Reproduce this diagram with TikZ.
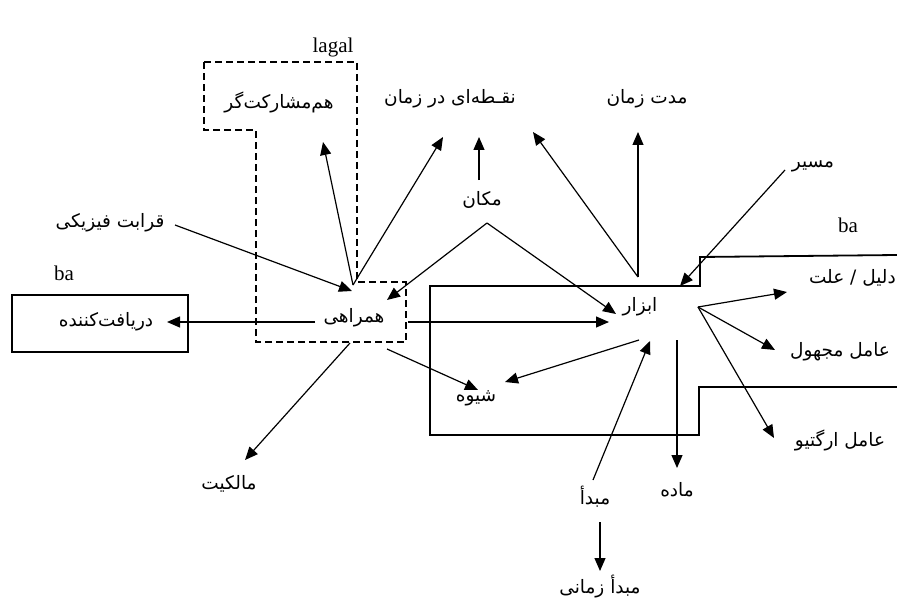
\documentclass[tikz,border=0pt]{standalone}
\usepackage{fontspec}
\setmainfont{Liberation Serif}
\newfontfamily\arabicfont[Script=Arabic]{DejaVu Sans}
\TeXXeTstate=1
\usetikzlibrary{arrows.meta}
\newcommand\rtltext[1]{\arabicfont\beginR #1\endR}

\begin{document}
\begin{tikzpicture}[x=1pt,y=-1pt,
  fa/.style={font=\fontsize{18.5}{22}\selectfont, inner sep=0pt},
  la/.style={font=\fontsize{21}{23}\selectfont, inner sep=0pt},
  conn/.style={line width=1.2pt, -{Triangle[length=13pt,width=11pt]}},
  frame/.style={line width=1.8pt, line join=miter},
  dashframe/.style={line width=1.4pt, dash pattern=on 7pt off 4pt},
  boxnode/.style={draw, line width=1.8pt, inner sep=0pt}
]
\useasboundingbox (0,0) rectangle (897,607);

% frames
\draw[frame] (897,255) -- (700,257) -- (700,286) -- (430,286) -- (430,435)
  -- (699,435) -- (699,387) -- (897,387);
\draw[dashframe] (204,62) -- (357,62) -- (357,282) -- (406,282) -- (406,342)
  -- (256,342) -- (256,130) -- (204,130) -- cycle;
\node[boxnode, minimum width=176pt, minimum height=57pt] (recvbox) at (100,323.5) {};

% labels
\node[la] (lagal) at (333,47) {lagal};
\node[la] (baleft) at (64,273) {ba};
\node[la] (baright) at (848,225) {ba};
\node[fa] (hamsharik) at (279,102) {\rtltext{هم‌مشارکت‌گر}};
\node[fa] (noghte) at (450,99) {\rtltext{نقـطه‌ای در زمان}};
\node[fa] (moddat) at (647,99) {\rtltext{مدت زمان}};
\node[fa] (makan) at (482,200) {\rtltext{مکان}};
\node[fa] (masir) at (813,166) {\rtltext{مسیر}};
\node[fa] (gharabat) at (110,223) {\rtltext{قرابت فیزیکی}};
\node[fa] (recv) at (106,322) {\rtltext{دریافت‌کننده}};
\node[fa] (hamrahi) at (354,318) {\rtltext{همراهی}};
\node[fa] (abzar) at (640,307) {\rtltext{ابزار}};
\node[fa, anchor=east] (dalil) at (896,278) {\rtltext{دلیل / علت}};
\node[fa] (majhul) at (840,352) {\rtltext{عامل مجهول}};
\node[fa] (ergative) at (840,440) {\rtltext{عامل ارگتیو}};
\node[fa] (shive) at (476,398) {\rtltext{شیوه}};
\node[fa] (malekiyat) at (229,484) {\rtltext{مالکیت}};
\node[fa] (made) at (677,490) {\rtltext{ماده}};
\node[fa] (mabda) at (595,497) {\rtltext{مبدأ}};
\node[fa] (mabdazamani) at (600,587) {\rtltext{مبدأ زمانی}};

% connector end points
\coordinate (hamrahiTop) at (353,285);
\coordinate (hamrahiLeft) at (315,322);
\coordinate (hamrahiRight) at (408,322);
\coordinate (hamrahiLow) at (387,349);
\coordinate (hamrahiBase) at (350,343);
\coordinate (hamrahiIn1) at (352,291);
\coordinate (hamrahiIn2) at (387,300);
\coordinate (hamsharikIn) at (323,142);
\coordinate (noghteIn1) at (443,137);
\coordinate (noghteIn2) at (479,137);
\coordinate (noghteIn3) at (533,132);
\coordinate (moddatIn) at (638,132);
\coordinate (gharabatOut) at (175,225);
\coordinate (makanTop) at (479,180);
\coordinate (makanOut) at (487,223);
\coordinate (abzarTop) at (638,277);
\coordinate (abzarFan) at (698,307);
\coordinate (abzarLow) at (639,340);
\coordinate (abzarDown) at (677,340);
\coordinate (abzarIn1) at (616,314);
\coordinate (abzarIn2) at (609,322);
\coordinate (abzarIn3) at (680,286);
\coordinate (abzarIn4) at (650,341);
\coordinate (masirOut) at (785,170);
\coordinate (recvIn) at (167,322);
\coordinate (dalilIn) at (787,292);
\coordinate (majhulIn) at (775,350);
\coordinate (ergativeIn) at (774,438);
\coordinate (shiveIn1) at (505,382);
\coordinate (shiveIn2) at (478,390);
\coordinate (malekiyatIn) at (245,460);
\coordinate (madeIn) at (677,468);
\coordinate (mabdaOut) at (593,480);
\coordinate (mabdaDown) at (600,522);
\coordinate (mabdazamaniIn) at (600,571);

% connectors
\draw[conn] (hamrahiTop) -- (hamsharikIn);
\draw[conn] (hamrahiTop) -- (noghteIn1);
\draw[conn] (gharabatOut) -- (hamrahiIn1);
\draw[conn] (makanOut) -- (hamrahiIn2);
\draw[conn] (makanOut) -- (abzarIn1);
\draw[conn] (makanTop) -- (noghteIn2);
\draw[conn] (abzarTop) -- (noghteIn3);
\draw[conn] (abzarTop) -- (moddatIn);
\draw[conn] (masirOut) -- (abzarIn3);
\draw[conn] (hamrahiRight) -- (abzarIn2);
\draw[conn] (hamrahiLeft) -- (recvIn);
\draw[conn] (abzarFan) -- (dalilIn);
\draw[conn] (abzarFan) -- (majhulIn);
\draw[conn] (abzarFan) -- (ergativeIn);
\draw[conn] (abzarLow) -- (shiveIn1);
\draw[conn] (hamrahiLow) -- (shiveIn2);
\draw[conn] (mabdaOut) -- (abzarIn4);
\draw[conn] (abzarDown) -- (madeIn);
\draw[conn] (mabdaDown) -- (mabdazamaniIn);
\draw[conn] (hamrahiBase) -- (malekiyatIn);
\end{tikzpicture}
\end{document}
